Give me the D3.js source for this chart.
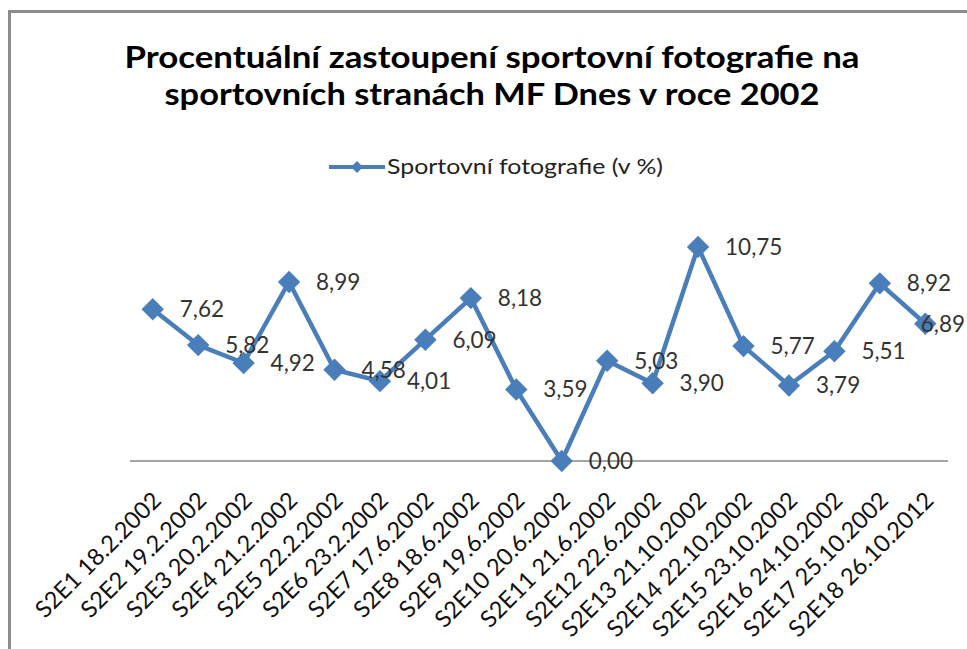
<!DOCTYPE html>
<html>
<head>
<meta charset="utf-8">
<script src="https://cdn.jsdelivr.net/npm/d3@7"></script>
<style>
  body { margin: 0; background: #fff; }
  svg { display: block; font-family: Lato, "Open Sans", sans-serif; }
  .title { font-weight: bold; font-size: 30px; fill: #000; }
  .legend text { font-size: 21px; fill: #222; }
  .tick-label { font-size: 23.5px; fill: #111; }
  .val-label { font-size: 22.5px; fill: #333; }
</style>
</head>
<body>
<svg width="967" height="649"></svg>
<script>
// data
const categories = [
  "S2E1 18.2.2002", "S2E2 19.2.2002", "S2E3 20.2.2002", "S2E4 21.2.2002",
  "S2E5 22.2.2002", "S2E6 23.2.2002", "S2E7 17.6.2002", "S2E8 18.6.2002",
  "S2E9 19.6.2002", "S2E10 20.6.2002", "S2E11 21.6.2002", "S2E12 22.6.2002",
  "S2E13 21.10.2002", "S2E14 22.10.2002", "S2E15 23.10.2002", "S2E16 24.10.2002",
  "S2E17 25.10.2002", "S2E18 26.10.2012"
];
const values = [7.62, 5.82, 4.92, 8.99, 4.58, 4.01, 6.09, 8.18, 3.59, 0.00,
  5.03, 3.90, 10.75, 5.77, 3.79, 5.51, 8.92, 6.89];
const seriesName = "Sportovní fotografie (v %)";
const titleLines = [
  "Procentuální zastoupení sportovní fotografie na",
  "sportovních stranách MF Dnes v roce 2002"
];

const blue = "#4a7ebb";
const svg = d3.select("svg");

// chart frame
svg.append("rect")
  .attr("x", 9.5).attr("y", 11.5)
  .attr("width", 1000).attr("height", 700)
  .attr("fill", "#fff")
  .attr("stroke", "#8c8c8c")
  .attr("stroke-width", 3);

// title
const titleW = [735, 655];
svg.selectAll("text.title")
  .data(titleLines)
  .enter().append("text")
  .attr("class", "title")
  .attr("x", 492)
  .attr("y", (d, i) => 68 + i * 37)
  .attr("text-anchor", "middle")
  .attr("textLength", (d, i) => titleW[i])
  .attr("lengthAdjust", "spacingAndGlyphs")
  .text(d => d);

// legend
const legend = svg.append("g").attr("class", "legend");
legend.append("line")
  .attr("x1", 329).attr("x2", 385)
  .attr("y1", 167).attr("y2", 167)
  .attr("stroke", blue).attr("stroke-width", 4);
legend.append("path")
  .attr("d", d3.symbol(d3.symbolDiamond2, 90)())
  .attr("transform", "translate(357,167)")
  .attr("fill", blue);
legend.append("text")
  .attr("x", 387).attr("y", 167).attr("dy", "0.35em")
  .attr("textLength", 276)
  .attr("lengthAdjust", "spacingAndGlyphs")
  .text(seriesName);

// scales
const x = d3.scalePoint()
  .domain(categories)
  .range([130, 948])
  .padding(0.5);

const y = d3.scaleLinear()
  .domain([0, 12])
  .range([461, 222]);

// category axis line at zero
svg.append("line")
  .attr("x1", 130).attr("x2", 948)
  .attr("y1", y(0)).attr("y2", y(0))
  .attr("stroke", "#868686")
  .attr("stroke-width", 1.5);

// category labels, rotated
svg.selectAll("text.tick-label")
  .data(categories)
  .enter().append("text")
  .attr("class", "tick-label")
  .attr("text-anchor", "end")
  .attr("dy", "0.35em")
  .attr("transform", d => "translate(" + (x(d) + 4) + "," + 496 + ") rotate(-45)")
  .text(d => d);

// series line
const line = d3.line()
  .x((d, i) => x(categories[i]))
  .y(d => y(d));

svg.append("path")
  .datum(values)
  .attr("d", line)
  .attr("fill", "none")
  .attr("stroke", blue)
  .attr("stroke-width", 4.5)
  .attr("stroke-linejoin", "round");

// markers
svg.selectAll("path.marker")
  .data(values)
  .enter().append("path")
  .attr("class", "marker")
  .attr("d", d3.symbol(d3.symbolDiamond2, 320)())
  .attr("transform", (d, i) => "translate(" + x(categories[i]) + "," + y(d) + ")")
  .attr("fill", blue);

// value labels (pushed back inside the chart when they would run off the right edge)
svg.selectAll("text.val-label")
  .data(values)
  .enter().append("text")
  .attr("class", "val-label")
  .attr("x", (d, i) => x(categories[i]) + 27)
  .attr("y", d => y(d))
  .attr("dy", "0.35em")
  .text(d => d.toFixed(2).replace(".", ","))
  .each(function () {
    const w = this.getComputedTextLength();
    const x0 = +this.getAttribute("x");
    if (x0 + w > 965) this.setAttribute("x", 965 - w);
  });
</script>
</body>
</html>
